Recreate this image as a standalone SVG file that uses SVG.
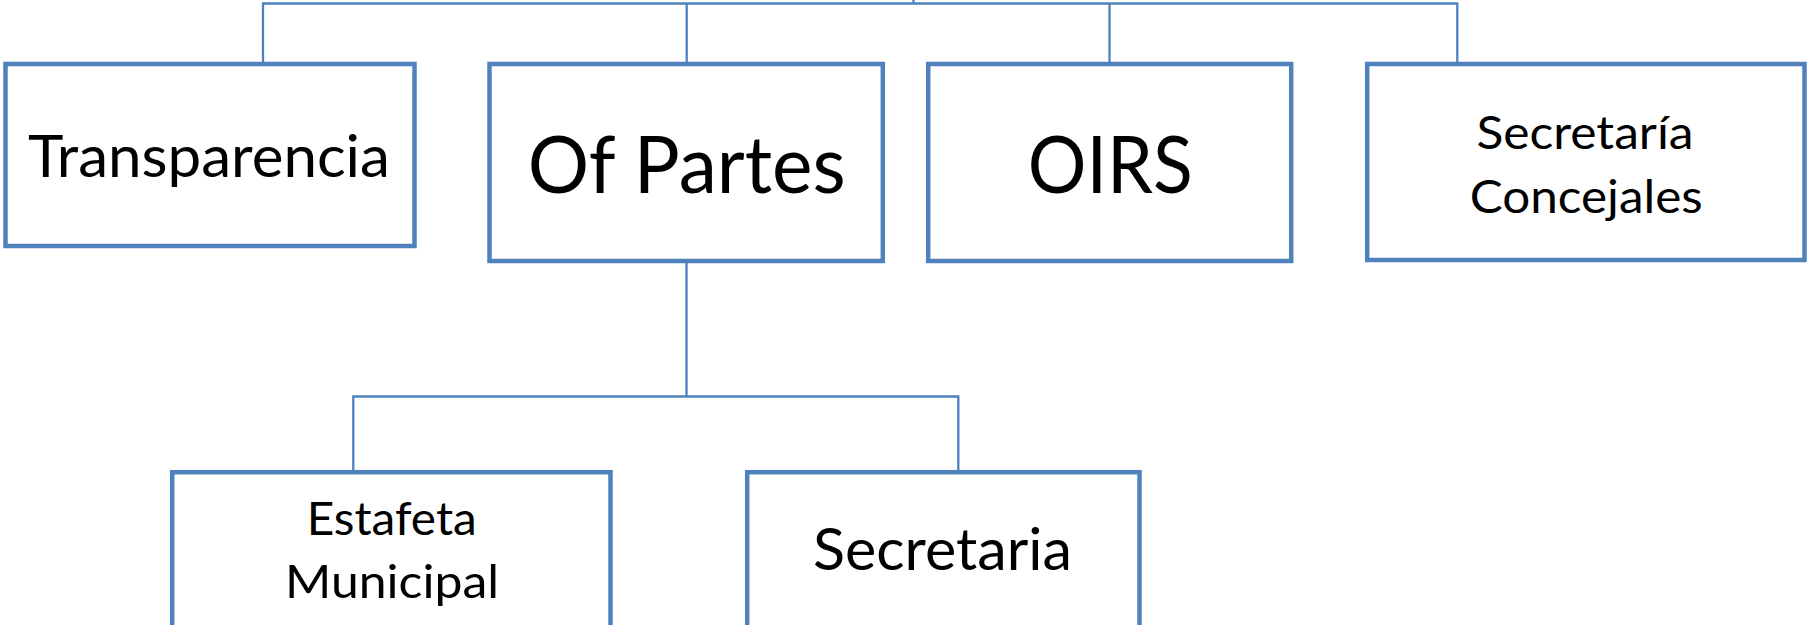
<svg xmlns="http://www.w3.org/2000/svg" width="1808" height="625" viewBox="0 0 1808 625">
  <style>
    .box { fill: #FFFFFF; stroke: #4F81BD; stroke-width: 4.5; }
    .conn { fill: none; stroke: #4F81BD; stroke-width: 2.3; }
    .lbl { font-family: Lato, "Open Sans", "Liberation Sans", sans-serif; fill: #000000; text-anchor: middle; }
  </style>
  <rect x="0" y="0" width="1808" height="625" fill="#FFFFFF"/>
  <g id="connectors">
    <path class="conn" d="M913.5,0 V3.5"/>
    <path class="conn" d="M263,62 V3.5 H1457.3 V62"/>
    <path class="conn" d="M686.7,3.5 V62"/>
    <path class="conn" d="M1109.5,3.5 V62"/>
    <path class="conn" d="M686.5,263 V396.5"/>
    <path class="conn" d="M353.3,470 V396.5 H958.3 V470"/>
  </g>
  <g id="transparencia">
    <rect class="box" x="5.5" y="64" width="409" height="182"/>
    <text class="lbl" x="208.9" y="177.3" font-size="59" textLength="362" lengthAdjust="spacingAndGlyphs">Transparencia</text>
  </g>
  <g id="of-partes">
    <rect class="box" x="489.5" y="64" width="393.3" height="197"/>
    <text class="lbl" x="686.7" y="192.7" font-size="80" textLength="318" lengthAdjust="spacingAndGlyphs">Of Partes</text>
  </g>
  <g id="oirs">
    <rect class="box" x="928.2" y="64" width="363" height="197"/>
    <text class="lbl" x="1110.2" y="192.7" font-size="79" textLength="165" lengthAdjust="spacingAndGlyphs">OIRS</text>
  </g>
  <g id="secretaria-concejales">
    <rect class="box" x="1367.2" y="64" width="437.3" height="196"/>
    <text class="lbl" x="1585" y="149" font-size="46" textLength="217" lengthAdjust="spacingAndGlyphs">Secretaría</text>
    <text class="lbl" x="1586.2" y="212.7" font-size="46" textLength="233" lengthAdjust="spacingAndGlyphs">Concejales</text>
  </g>
  <g id="estafeta-municipal">
    <rect class="box" x="172.2" y="472.2" width="438.3" height="240"/>
    <text class="lbl" x="391.7" y="535" font-size="46.5" textLength="170" lengthAdjust="spacingAndGlyphs">Estafeta</text>
    <text class="lbl" x="392" y="598.3" font-size="46.5" textLength="214" lengthAdjust="spacingAndGlyphs">Municipal</text>
  </g>
  <g id="secretaria">
    <rect class="box" x="747.2" y="472.2" width="392.3" height="240"/>
    <text class="lbl" x="942.5" y="570" font-size="58" textLength="259" lengthAdjust="spacingAndGlyphs">Secretaria</text>
  </g>
</svg>
